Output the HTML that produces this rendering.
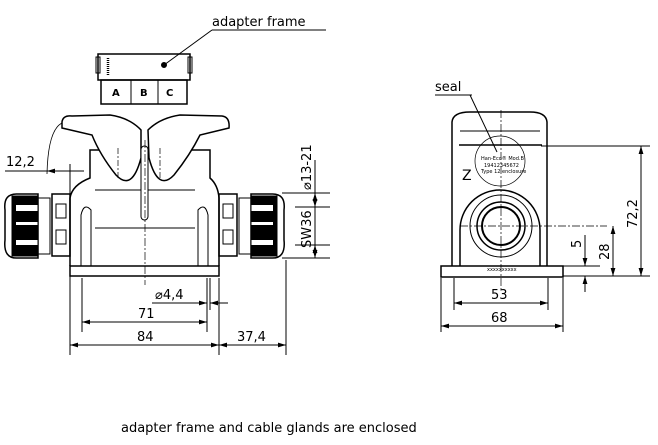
<!DOCTYPE html>
<html><head><meta charset="utf-8"><style>
html,body{margin:0;padding:0;background:#fff;width:658px;height:445px;overflow:hidden}
svg{display:block}
text{font-family:"DejaVu Sans","Liberation Sans",sans-serif;fill:#000}
</style></head><body>
<svg width="658" height="445" viewBox="0 0 658 445" xmlns="http://www.w3.org/2000/svg">
<defs>
<marker id="a" viewBox="0 0 10 6" refX="10" refY="3" markerWidth="8" markerHeight="5" orient="auto-start-reverse"><path d="M0,0L10,3L0,6z" fill="#000"/></marker>
</defs>
<g fill="none" stroke="#000" stroke-width="1">
<!-- adapter frame -->
<line x1="212" y1="30" x2="326" y2="30"/>
<line x1="212" y1="30" x2="164" y2="65"/>
<circle cx="164" cy="65" r="2.5" fill="#000"/>
<rect x="98" y="54" width="92" height="26" stroke-width="1.5"/>
<rect x="96" y="57" width="4" height="16"/>
<rect x="188" y="57" width="4" height="16"/>
<line x1="108" y1="58" x2="108" y2="75" stroke-width="2.5" stroke-dasharray="1,1"/>
<rect x="101" y="80" width="86" height="24" stroke-width="1.5"/>
<line x1="131" y1="80" x2="131" y2="104"/><line x1="158" y1="80" x2="158" y2="104"/>
<!-- left view body -->
<path d="M70,266 V198 Q72,185 90,178 V150 H210 V178 Q218,185 219,198 V266" stroke-width="1.5"/>
<rect x="70" y="266" width="149" height="10" stroke-width="1.5"/>
<line x1="95" y1="190" x2="195" y2="190"/><line x1="95" y1="228" x2="195" y2="228"/>
<path d="M81,266 V215 Q84,202 91,210 V266"/>
<path d="M198,266 V210 Q205,202 208,215 V266"/>
<!-- lids -->
<path d="M62,122 Q63,115 72,116 L110,115 Q130,118 141,130 V158 Q132,192 116,175 Q100,155 92,135 L62,128 Z" stroke-width="1.5" fill="#fff"/>
<path d="M148,130 Q160,118 180,115 L222,116 Q230,117 229,128 L200,135 Q190,155 174,175 Q158,192 149,158 Z" stroke-width="1.5" fill="#fff"/>
<rect x="141" y="146" width="7" height="74" rx="3.5" fill="#fff"/>
<!-- glands left -->
<path d="M5,210 Q3,193 18,194 H38 V258 H18 Q3,259 5,240 Z" stroke-width="1.5"/>
<rect x="12" y="196" width="26" height="60" fill="#000"/>
<rect x="16" y="205" width="22" height="6" fill="#fff" stroke="none"/>
<rect x="16" y="222" width="22" height="3" fill="#fff" stroke="none"/>
<rect x="16" y="240" width="22" height="5" fill="#fff" stroke="none"/>
<rect x="38" y="198" width="12" height="56"/>
<rect x="52" y="194" width="18" height="62" stroke-width="1.5"/>
<rect x="56" y="204" width="10" height="14"/><rect x="56" y="230" width="10" height="14"/>
<!-- glands right -->
<path d="M284,210 Q286,193 271,194 H251 V258 H271 Q286,259 284,240 Z" stroke-width="1.5"/>
<rect x="251" y="196" width="26" height="60" fill="#000"/>
<rect x="251" y="205" width="22" height="6" fill="#fff" stroke="none"/>
<rect x="251" y="222" width="22" height="3" fill="#fff" stroke="none"/>
<rect x="251" y="240" width="22" height="5" fill="#fff" stroke="none"/>
<rect x="239" y="198" width="12" height="56"/>
<rect x="219" y="194" width="18" height="62" stroke-width="1.5"/>
<rect x="223" y="204" width="10" height="14"/><rect x="223" y="230" width="10" height="14"/>
<!-- centerlines -->
<line x1="145" y1="140" x2="145" y2="285" stroke-dasharray="8,2,2,2" stroke-width="0.7"/>
<line x1="118" y1="148" x2="118" y2="180" stroke-dasharray="6,2,2,2" stroke-width="0.7"/>
<line x1="160" y1="148" x2="160" y2="180" stroke-dasharray="6,2,2,2" stroke-width="0.7"/>
<!-- left dims -->
<line x1="5" y1="171" x2="47" y2="171"/>
<line x1="47" y1="171" x2="84" y2="171" marker-start="url(#a)"/>
<path d="M47,174 Q48,130 62,123" stroke-width="0.8"/>
<line x1="70" y1="164" x2="70" y2="355"/>
<line x1="219" y1="278" x2="219" y2="355"/>
<line x1="82" y1="278" x2="82" y2="332"/>
<line x1="207" y1="278" x2="207" y2="332"/>
<line x1="210" y1="278" x2="210" y2="310"/>
<line x1="286" y1="260" x2="286" y2="355"/>
<line x1="82" y1="322" x2="207" y2="322" marker-start="url(#a)" marker-end="url(#a)"/>
<line x1="70" y1="345" x2="219" y2="345" marker-start="url(#a)" marker-end="url(#a)"/>
<line x1="219" y1="345" x2="286" y2="345" marker-start="url(#a)" marker-end="url(#a)"/>
<line x1="152" y1="303" x2="207" y2="303"/>
<line x1="190" y1="303" x2="207" y2="303" marker-end="url(#a)"/>
<line x1="210" y1="303" x2="228" y2="303" marker-start="url(#a)"/>
<line x1="282" y1="193" x2="330" y2="193"/>
<line x1="282" y1="258" x2="330" y2="258"/>
<line x1="295" y1="207" x2="330" y2="207"/>
<line x1="295" y1="245" x2="330" y2="245"/>
<line x1="315" y1="193" x2="315" y2="207" marker-start="url(#a)" marker-end="url(#a)"/>
<line x1="315" y1="245" x2="315" y2="258" marker-start="url(#a)" marker-end="url(#a)"/>
<line x1="315" y1="160" x2="315" y2="193"/>
<line x1="315" y1="207" x2="315" y2="245"/>
<!-- right view -->
<line x1="435" y1="95" x2="472" y2="95"/>
<line x1="470" y1="95" x2="497" y2="152"/>
<path d="M452,266 V122 Q453,112 470,112 H530 Q546,112 547,122 V266" stroke-width="1.5"/>
<rect x="441" y="266" width="122" height="11" stroke-width="1.5"/>
<line x1="460" y1="131" x2="540" y2="131"/>
<line x1="459" y1="145" x2="542" y2="145" stroke-width="1.5"/>
<circle cx="500" cy="161" r="25" stroke-width="0.7"/>
<path d="M460,266 V230 A40,40 0 0 1 540,230 V266" stroke-width="1.5"/>
<circle cx="501" cy="226" r="31"/>
<circle cx="501" cy="226" r="24" stroke-width="1.5"/>
<circle cx="501" cy="226" r="19" stroke-width="2"/>
<line x1="501" y1="110" x2="501" y2="290" stroke-dasharray="8,2,2,2" stroke-width="0.7"/>
<line x1="460" y1="226" x2="607" y2="226" stroke-dasharray="8,2,2,2" stroke-width="0.7"/>
<line x1="541" y1="146" x2="650" y2="146"/>
<line x1="563" y1="276" x2="650" y2="276"/>
<line x1="510" y1="266" x2="600" y2="266"/>
<line x1="641" y1="146" x2="641" y2="276" marker-start="url(#a)" marker-end="url(#a)"/>
<line x1="613" y1="226" x2="613" y2="276" marker-start="url(#a)" marker-end="url(#a)"/>
<line x1="585" y1="235" x2="585" y2="266" marker-end="url(#a)"/>
<line x1="585" y1="276" x2="585" y2="292" marker-start="url(#a)"/>
<line x1="454" y1="278" x2="454" y2="310"/>
<line x1="548" y1="278" x2="548" y2="310"/>
<line x1="441" y1="278" x2="441" y2="332"/>
<line x1="563" y1="278" x2="563" y2="332"/>
<line x1="454" y1="303" x2="548" y2="303" marker-start="url(#a)" marker-end="url(#a)"/>
<line x1="441" y1="326" x2="563" y2="326" marker-start="url(#a)" marker-end="url(#a)"/>
</g>
<g font-size="13">
<text x="212" y="26">adapter frame</text>
<text x="435" y="91">seal</text>
<text x="6" y="166">12,2</text>
<text x="155" y="299">⌀4,4</text>
<text x="138" y="318">71</text>
<text x="137" y="341">84</text>
<text x="237" y="341">37,4</text>
<text x="491" y="299">53</text>
<text x="491" y="322">68</text>
<text x="121" y="432">adapter frame and cable glands are enclosed</text>
<text transform="translate(311,190) rotate(-90)">⌀13-21</text>
<text transform="translate(311,248) rotate(-90)">SW36</text>
<text transform="translate(637,228) rotate(-90)">72,2</text>
<text transform="translate(609,260) rotate(-90)">28</text>
<text transform="translate(581,248) rotate(-90)">5</text>
</g>
<g font-size="10" font-weight="bold"><text x="112" y="96">A</text><text x="140" y="96">B</text><text x="166" y="96">C</text></g>
<g font-size="5"><text x="481" y="160">Han-Eco® Mod.B</text><text x="484" y="167">19412345672</text><text x="481" y="173">Type 12 enclosure</text><text x="487" y="271">xxxxxxxxxx</text></g>
<text x="462" y="180" font-size="14">Z</text>
</svg>
</body></html>
